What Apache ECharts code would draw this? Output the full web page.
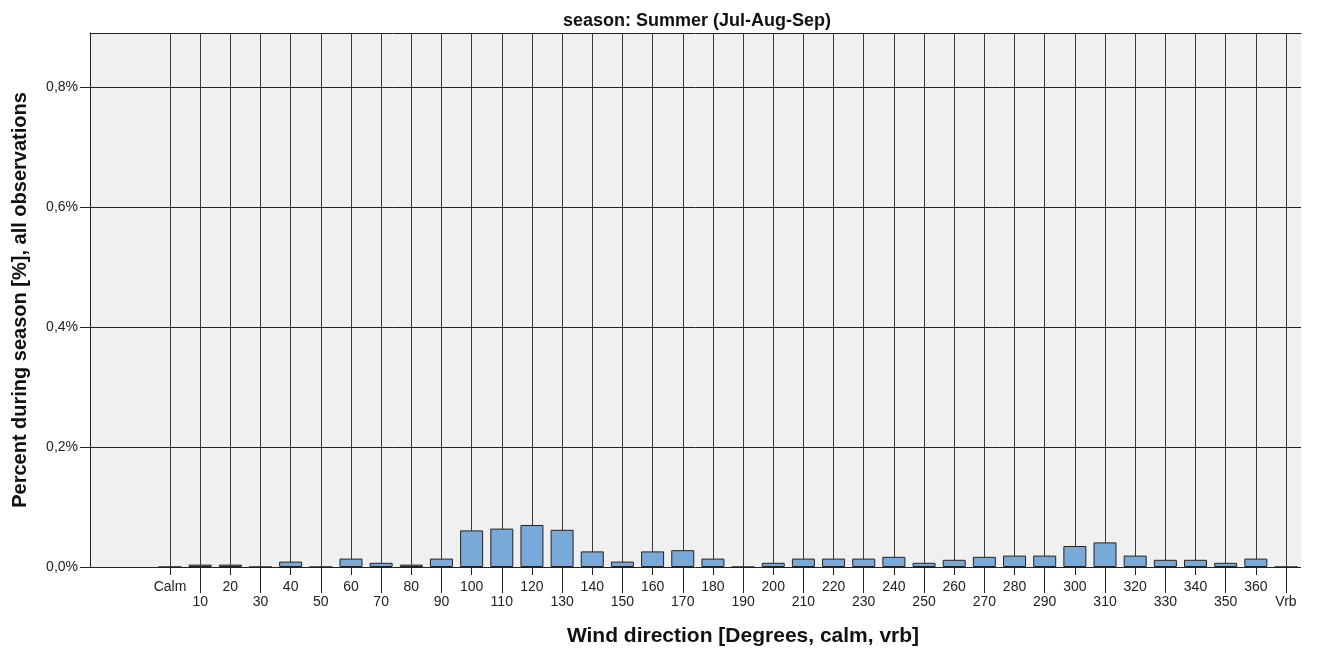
<!DOCTYPE html>
<html>
<head>
<meta charset="utf-8">
<script src="https://cdn.jsdelivr.net/npm/echarts@6/dist/echarts.min.js"></script>
<style>html,body{margin:0;padding:0;background:#fff}#c{width:1317px;height:653px}</style>
</head>
<body>
<div id="c"></div>
<script>
const categories = ['Calm','10','20','30','40','50','60','70','80','90','100','110','120','130','140','150','160','170','180','190','200','210','220','230','240','250','260','270','280','290','300','310','320','330','340','350','360','Vrb'];
const percentValues = [0,0.004,0.004,0,0.009,0,0.014,0.007,0.004,0.014,0.061,0.064,0.070,0.062,0.026,0.009,0.026,0.028,0.014,0,0.007,0.014,0.014,0.014,0.017,0.007,0.012,0.017,0.019,0.019,0.035,0.041,0.019,0.012,0.012,0.007,0.014,0];
const yTicks = [0,0.2,0.4,0.6,0.8];
const titleText = 'season: Summer (Jul-Aug-Sep)';
const xTitle = 'Wind direction [Degrees, calm, vrb]';
const yTitle = 'Percent during season [%], all observations';

const FONT = '"Liberation Sans", Arial, sans-serif';
const chart = echarts.init(document.getElementById('c'));
const even = (i) => i % 2 === 0;
const odd = (i) => i % 2 === 1;
chart.setOption({
  animation: false,
  textStyle: { fontFamily: FONT },
  title: {
    text: titleText, left: 692, top: 7, textAlign: 'center',
    textStyle: { fontFamily: FONT, fontSize: 18, fontWeight: 'bold', color: '#111' }
  },
  grid: [
    { left: 90, right: 16, top: 33, bottom: 86, show: true, backgroundColor: '#f0f0f0', borderWidth: 0 },
    { left: 170, right: 31, top: 33, bottom: 86 }
  ],
  xAxis: [
    { gridIndex: 0, type: 'value', position: 'top', min: 0, max: 1,
      axisLine: { show: true, onZero: false, lineStyle: { color: '#222', width: 1 } },
      axisTick: { show: false }, axisLabel: { show: false }, splitLine: { show: false } },
    { gridIndex: 1, type: 'category', data: categories, boundaryGap: false, position: 'bottom',
      axisLine: { show: false },
      axisTick: { show: true, length: 8, interval: even, lineStyle: { color: '#222' } },
      axisLabel: { show: true, interval: even, margin: 13, fontSize: 14, color: '#222', fontFamily: FONT },
      splitLine: { show: true, interval: 0, lineStyle: { color: '#3a3a3a', width: 1 } },
      name: xTitle, nameLocation: 'middle', nameGap: 59,
      nameTextStyle: { fontFamily: FONT, fontSize: 21, fontWeight: 'bold', color: '#111', padding: [0, 0, 0, 30] } },
    { gridIndex: 1, type: 'category', data: categories, boundaryGap: false, position: 'bottom', offset: 0,
      axisLine: { show: false },
      axisTick: { show: true, length: 26, interval: odd, lineStyle: { color: '#222' } },
      axisLabel: { show: true, interval: odd, margin: 28, fontSize: 14, color: '#222', fontFamily: FONT },
      splitLine: { show: false } }
  ],
  yAxis: [
    { gridIndex: 0, type: 'value', min: 0, max: 0.89, interval: 0.2,
      axisLine: { show: true, lineStyle: { color: '#222', width: 1 } },
      axisTick: { show: true, length: 10, customValues: yTicks, lineStyle: { color: '#222' } },
      axisLabel: { margin: 12, fontSize: 14, color: '#222', fontFamily: FONT, customValues: yTicks,
        formatter: (v) => yTicks.some(t => Math.abs(t - v) < 1e-9) ? v.toFixed(1).replace('.', ',') + '%' : '' },
      splitLine: { show: true, lineStyle: { color: '#222', width: 1 } },
      name: yTitle, nameLocation: 'middle', nameGap: 60,
      nameTextStyle: { fontFamily: FONT, fontSize: 20, fontWeight: 'bold', color: '#111' } },
    { gridIndex: 1, type: 'value', min: 0, max: 0.89, show: false, splitLine: { show: false } }
  ],
  series: [
    { type: 'bar', xAxisIndex: 1, yAxisIndex: 1, data: percentValues, barWidth: 23, clip: false,
      itemStyle: { color: '#79a9d9', borderColor: '#222', borderWidth: 1 } }
  ]
});
</script>
</body>
</html>
